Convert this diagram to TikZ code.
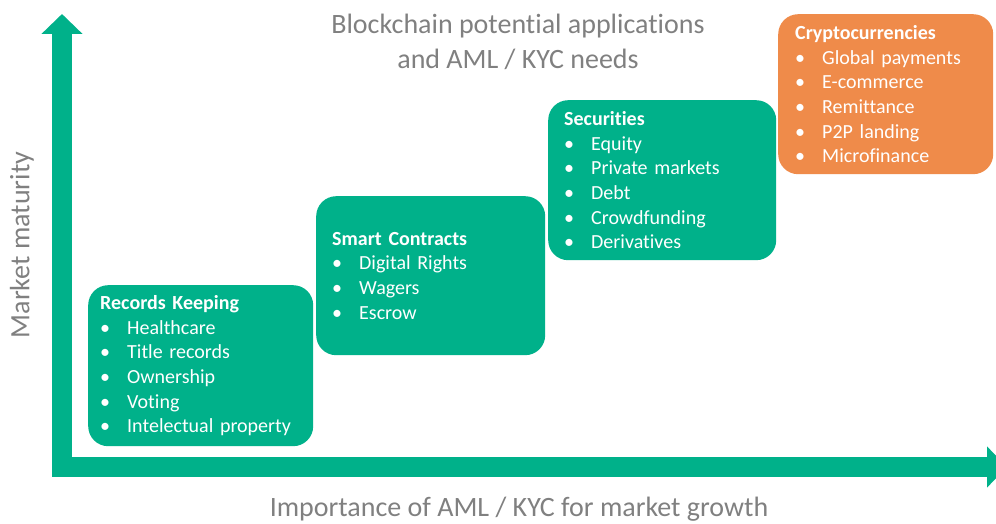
\documentclass[tikz,border=0pt]{standalone}
\usepackage{fontspec}
\setmainfont{Carlito}[Ligatures=NoCommon]
\usepackage{xcolor}
\usetikzlibrary{arrows.meta,positioning}
\definecolor{appgreen}{RGB}{0,177,138}
\definecolor{cryptocolor}{RGB}{239,139,74}
\definecolor{labelgray}{RGB}{128,128,128}
\newcommand{\bul}[1]{\\\makebox[27pt][l]{\textbullet}#1}

\begin{document}
\begin{tikzpicture}[x=1pt,y=-1pt,
    axis/.style={line width=20pt,draw=appgreen,line join=miter,
        {Triangle[length=20pt,width=40pt]}-{Triangle[length=20pt,width=40pt]}},
    appbox/.style={fill=appgreen,text=white,rounded corners=20pt,anchor=north west,
        inner xsep=12pt,inner ysep=0pt,align=left,
        font=\fontsize{20}{24.7}\selectfont},
    axislabel/.style={text=labelgray,font=\fontsize{28}{30}\selectfont}]
    \useasboundingbox (0,0) rectangle (996,524);

    % Draw axes
    \coordinate (origin) at (62,467);
    \coordinate (ytip) at (62,14);
    \coordinate (xtip) at (1007,467);
    \draw[axis] (ytip) -- (origin) -- (xtip);

    % Title and axis labels
    \node[text=labelgray,align=center,font=\fontsize{28}{35}\selectfont] (title) at (518,42)
        {Blockchain potential applications\\and AML / KYC needs};
    \node[axislabel] (xlabel) at (519,509) {Importance of AML / KYC for market growth};
    \node[axislabel,rotate=90] (ylabel) at (22,245) {Market maturity};

    % Application boxes
    \node[appbox,minimum width=225,minimum height=161,text width=201] (records) at (88,285)
        {\textbf{Records Keeping}\bul{Healthcare}\bul{Title records}\bul{Ownership}%
         \bul{Voting}\bul{Intelectual property}};
    \node[appbox,minimum width=229,minimum height=159,text width=197,inner xsep=16pt] (smart) at (316,196)
        {\textbf{Smart Contracts}\bul{Digital Rights}\bul{Wagers}\bul{Escrow}};
    \node[appbox,minimum width=228,minimum height=160,text width=196,inner xsep=16pt] (securities) at (548,100)
        {\textbf{Securities}\bul{Equity}\bul{Private markets}\bul{Debt}%
         \bul{Crowdfunding}\bul{Derivatives}};
    \node[appbox,fill=cryptocolor,minimum width=215,minimum height=160,text width=181,inner xsep=17pt] (crypto) at (778,14)
        {\textbf{Cryptocurrencies}\bul{Global payments}\bul{E-commerce}\bul{Remittance}%
         \bul{P2P landing}\bul{Microfinance}};
\end{tikzpicture}
\end{document}
